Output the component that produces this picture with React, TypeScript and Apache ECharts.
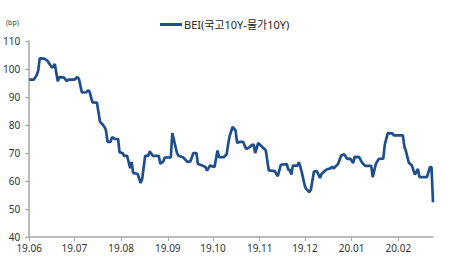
import React, { useEffect, useRef } from "react";
import * as echarts from "echarts";

const seriesName = "BEI(국고10Y-물가10Y)";
const unitLabel = "(bp)";
const yTicks = { min: 40, max: 110, interval: 10 };
const xRange = { min: "2019-06-01", max: "2020-02-24" };

const dates = [
  "2019-06-01", "2019-06-04", "2019-06-05", "2019-06-06", "2019-06-07", "2019-06-08",
  "2019-06-11", "2019-06-13", "2019-06-16", "2019-06-17", "2019-06-18", "2019-06-20",
  "2019-06-21", "2019-06-24", "2019-06-26", "2019-06-27", "2019-07-01", "2019-07-03",
  "2019-07-04", "2019-07-06", "2019-07-09", "2019-07-10", "2019-07-11", "2019-07-13",
  "2019-07-16", "2019-07-18", "2019-07-20", "2019-07-21", "2019-07-22", "2019-07-23",
  "2019-07-25", "2019-07-26", "2019-07-28", "2019-07-30", "2019-07-31", "2019-08-02",
  "2019-08-03", "2019-08-05", "2019-08-07", "2019-08-08", "2019-08-09", "2019-08-12",
  "2019-08-14", "2019-08-15", "2019-08-17", "2019-08-19", "2019-08-20", "2019-08-22",
  "2019-08-26", "2019-08-27", "2019-08-29", "2019-08-30", "2019-09-03", "2019-09-04",
  "2019-09-07", "2019-09-08", "2019-09-11", "2019-09-12", "2019-09-14", "2019-09-16",
  "2019-09-18", "2019-09-20", "2019-09-21", "2019-09-24", "2019-09-26", "2019-09-27",
  "2019-09-29", "2019-10-02", "2019-10-04", "2019-10-05", "2019-10-08", "2019-10-10",
  "2019-10-11", "2019-10-12", "2019-10-14", "2019-10-16", "2019-10-17", "2019-10-19",
  "2019-10-21", "2019-10-23", "2019-10-25", "2019-10-27", "2019-10-28", "2019-10-29",
  "2019-10-31", "2019-11-02", "2019-11-05", "2019-11-07", "2019-11-11", "2019-11-13",
  "2019-11-15", "2019-11-19", "2019-11-20", "2019-11-21", "2019-11-22", "2019-11-23",
  "2019-11-26", "2019-11-27", "2019-11-28", "2019-11-29", "2019-12-01", "2019-12-02",
  "2019-12-04", "2019-12-05", "2019-12-07", "2019-12-09", "2019-12-11", "2019-12-12",
  "2019-12-14", "2019-12-16", "2019-12-18", "2019-12-19", "2019-12-20", "2019-12-22",
  "2019-12-23", "2019-12-25", "2019-12-27", "2019-12-29", "2019-12-31", "2020-01-02",
  "2020-01-03", "2020-01-06", "2020-01-08", "2020-01-10", "2020-01-14", "2020-01-15",
  "2020-01-17", "2020-01-19", "2020-01-22", "2020-01-23", "2020-01-25", "2020-01-28",
  "2020-01-29", "2020-02-04", "2020-02-05", "2020-02-06", "2020-02-08", "2020-02-10",
  "2020-02-12", "2020-02-14", "2020-02-15", "2020-02-20", "2020-02-22", "2020-02-23",
  "2020-02-24",
];

const bei = [
  96.2, 96.2, 97, 97.8, 99.4, 103.8,
  103.7, 103, 100.6, 100.7, 101.8, 95.6,
  97.1, 97, 95.7, 96.2, 96.2, 97.1,
  96.5, 91.6, 91.7, 92.4, 92, 88.1,
  88, 81.2, 80, 79.3, 78, 74,
  74, 75.7, 75, 75, 70.2, 70,
  69, 69, 64.6, 66.8, 62.9, 62.5,
  59.3, 60.8, 69, 69, 70.6, 69,
  69, 66.2, 67, 68.4, 68.4, 77.1,
  70.2, 69, 68.5, 68, 66.8, 67,
  70, 70, 66.1, 65.5, 65, 63.7,
  65.5, 65, 70.9, 68.5, 68.5, 69.5,
  72.9, 76, 79.3, 78, 73.6, 74,
  74, 71.4, 72, 72.9, 73, 70,
  73.6, 72.5, 71, 63.8, 63.5, 61.7,
  65.8, 66, 64, 64, 62.3, 65.5,
  65.5, 66.7, 65, 62.9, 58.1, 57.1,
  56, 57, 63.4, 63.5, 61.1, 62.5,
  63.5, 64.3, 64.5, 65.1, 64.5, 65.5,
  66.1, 69, 69.6, 67.9, 68, 66.4,
  68.6, 68.5, 66.5, 65.4, 65.4, 61.4,
  66, 67.9, 68, 73, 77.1, 77,
  76.3, 76.3, 72.3, 70.7, 66.5, 65.5,
  62.3, 64.3, 61.4, 61.4, 65, 65,
  52.4,
];

export default function App() {
  const ref = useRef<HTMLDivElement>(null);
  useEffect(() => {
    if (!ref.current) return;
    const chart = echarts.init(ref.current, null, { renderer: "svg" });
    const font = "'Noto Sans', 'Noto Sans CJK KR', sans-serif";
    chart.setOption({
      animation: false,
      textStyle: { fontFamily: font },
      grid: { left: 29, right: 26, top: 41, bottom: 27, containLabel: false },
      legend: {
        left: 155,
        top: 14,
        icon: "rect",
        itemWidth: 22,
        itemHeight: 3,
        itemGap: 4,
        textStyle: { fontSize: 11, color: "#262626", fontFamily: font, padding: [0, 0, 0, -3] },
        data: [seriesName],
      },
      graphic: [
        {
          type: "text",
          left: 6,
          top: 19,
          style: { text: unitLabel, fontSize: 7, fill: "#404040", fontFamily: font },
        },
      ],
      xAxis: {
        type: "time",
        min: xRange.min,
        max: xRange.max,
        splitNumber: 9,
        minInterval: 28 * 86400000,
        maxInterval: 31 * 86400000,
        axisLine: { lineStyle: { color: "#A6A6A6", width: 1.5 } },
        axisTick: { show: true, length: 4, lineStyle: { color: "#A6A6A6", width: 1 } },
        splitLine: { show: false },
        axisLabel: {
          fontSize: 10,
          color: "#333333",
          margin: 6,
          hideOverlap: false,
          formatter: (v: number) => {
            const d = new Date(v);
            const yy = String(d.getFullYear()).slice(2);
            const mm = String(d.getMonth() + 1).padStart(2, "0");
            return `${yy}.${mm}`;
          },
        },
      },
      yAxis: {
        type: "value",
        min: yTicks.min,
        max: yTicks.max,
        interval: yTicks.interval,
        axisLine: { show: true, lineStyle: { color: "#A6A6A6", width: 1.5 } },
        axisTick: { show: true, length: 4, lineStyle: { color: "#A6A6A6", width: 1 } },
        splitLine: { show: false },
        axisLabel: { fontSize: 10, color: "#333333", margin: 9 },
      },
      series: [
        {
          name: seriesName,
          type: "line",
          symbol: "none",
          data: dates.map((d, i) => [d, bei[i]]),
          lineStyle: { color: "#1F4E8C", width: 2.7 },
          itemStyle: { color: "#1F4E8C" },
        },
      ],
    });
    return () => chart.dispose();
  }, []);
  return (
    <div
      ref={ref}
      style={{ position: "fixed", left: 0, top: 0, width: 459, height: 264, background: "#fff" }}
    />
  );
}
